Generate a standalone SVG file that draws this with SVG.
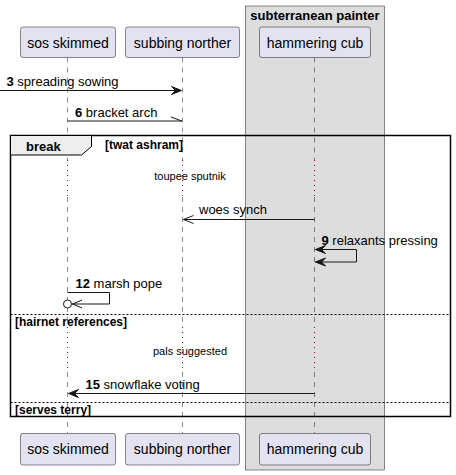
<svg xmlns="http://www.w3.org/2000/svg" width="456" height="475" viewBox="0 0 456 475">
<style>
text{font-family:"Liberation Sans",Arial,sans-serif;fill:#000}
.pbox{fill:#E2E2F0;stroke:#181818;stroke-width:0.5}
.pt{font-size:14px;text-anchor:middle}
.life{stroke:#181818;stroke-width:0.5;stroke-dasharray:5,5;fill:none}
.delay{stroke:#A80036;stroke-width:1;stroke-dasharray:1,4;fill:none}
.msg{stroke:#181818;stroke-width:1;fill:none}
.mt{font-size:13px}
.b{font-weight:bold}
.small{font-size:11px}
.guard{font-size:12px;font-weight:bold}
.sep{stroke:#000;stroke-width:1;stroke-dasharray:2,2}
.ah{fill:#181818;stroke:#181818;stroke-width:1}
</style>
<g id="box-subterranean-painter">
<rect x="245.5" y="6" width="139" height="464" fill="#DDDDDD" stroke="#181818" stroke-width="0.5"/>
<text x="315" y="19.5" font-size="13" font-weight="bold" text-anchor="middle">subterranean painter</text>
</g>
<g id="lifelines">
<line class="life" x1="67.5" y1="57.5" x2="67.5" y2="160"/>
<line class="delay" x1="67.5" y1="160" x2="67.5" y2="197"/>
<line class="life" x1="67.5" y1="197" x2="67.5" y2="327"/>
<line class="delay" x1="67.5" y1="327" x2="67.5" y2="372"/>
<line class="life" x1="67.5" y1="372" x2="67.5" y2="433"/>
<line class="life" x1="182.5" y1="57.5" x2="182.5" y2="160"/>
<line class="delay" x1="182.5" y1="160" x2="182.5" y2="197"/>
<line class="life" x1="182.5" y1="197" x2="182.5" y2="327"/>
<line class="delay" x1="182.5" y1="327" x2="182.5" y2="372"/>
<line class="life" x1="182.5" y1="372" x2="182.5" y2="433"/>
<line class="life" x1="314.5" y1="57.5" x2="314.5" y2="160"/>
<line class="delay" x1="314.5" y1="160" x2="314.5" y2="197"/>
<line class="life" x1="314.5" y1="197" x2="314.5" y2="327"/>
<line class="delay" x1="314.5" y1="327" x2="314.5" y2="372"/>
<line class="life" x1="314.5" y1="372" x2="314.5" y2="433"/>
</g>
<g id="p-sos-skimmed">
<rect class="pbox" x="20.5" y="27" width="95" height="30.5" rx="2.5"/>
<text class="pt" x="68" y="47.5">sos skimmed</text>
<rect class="pbox" x="20.5" y="433.5" width="95" height="31.5" rx="2.5"/>
<text class="pt" x="68" y="454">sos skimmed</text>
</g>
<g id="p-subbing-norther">
<rect class="pbox" x="125.5" y="27" width="114" height="30.5" rx="2.5"/>
<text class="pt" x="182.5" y="47.5">subbing norther</text>
<rect class="pbox" x="125.5" y="433.5" width="114" height="31.5" rx="2.5"/>
<text class="pt" x="182.5" y="454">subbing norther</text>
</g>
<g id="p-hammering-cub">
<rect class="pbox" x="259.5" y="27" width="111" height="30.5" rx="2.5"/>
<text class="pt" x="315" y="47.5">hammering cub</text>
<rect class="pbox" x="259.5" y="433.5" width="111" height="31.5" rx="2.5"/>
<text class="pt" x="315" y="454">hammering cub</text>
</g>
<g id="frame-break">
<rect x="10.5" y="135.5" width="440" height="281" fill="none" stroke="#000" stroke-width="1.5"/>
<path d="M10.5,135.5 H91.5 V146.5 L81.5,155 H10.5 Z" fill="#EEEEEE" stroke="#000" stroke-width="1"/>
<text x="26" y="150.5" font-size="13" font-weight="bold">break</text>
<text x="105" y="149" class="guard">[twat ashram]</text>
<line class="sep" x1="10.5" y1="314.5" x2="450.5" y2="314.5"/>
<text x="15" y="326" class="guard">[hairnet references]</text>
<line class="sep" x1="10.5" y1="402.5" x2="450.5" y2="402.5"/>
<text x="15" y="413.5" class="guard">[serves terry]</text>
</g>
<g id="delay-texts">
<text x="190" y="179.5" class="small" text-anchor="middle">toupee sputnik</text>
<text x="190" y="355" class="small" text-anchor="middle">pals suggested</text>
</g>
<g id="connectors">
<line class="msg" x1="0" y1="90.5" x2="181" y2="90.5"/>
<polygon class="ah" points="171.5,86.5 181.5,90.5 171.5,94.5 175.5,90.5"/>
<text x="6.5" y="86" class="mt"><tspan class="b">3</tspan> spreading sowing</text>

<line class="msg" x1="67.5" y1="121" x2="182" y2="121"/>
<line class="msg" x1="171" y1="117" x2="182" y2="121"/>
<text x="75" y="117" class="mt"><tspan class="b">6</tspan> bracket arch</text>

<line class="msg" x1="314.5" y1="219.5" x2="183.5" y2="219.5"/>
<polyline class="msg" points="193.5,215.5 183.5,219.5 193.5,223.5"/>
<text x="199" y="214" class="mt">woes synch</text>

<polyline class="msg" points="315,249.5 356.5,249.5 356.5,262 315.5,262"/>
<polygon class="ah" points="325.5,245.5 315.5,249.5 325.5,253.5 321.5,249.5"/>
<polygon class="ah" points="325.5,258 315.5,262 325.5,266 321.5,262"/>
<text x="321.5" y="245" class="mt"><tspan class="b">9</tspan> relaxants pressing</text>

<polyline class="msg" points="67.5,292.5 109.5,292.5 109.5,304 72,304"/>
<polyline class="msg" points="82,300 72.5,304 82,308"/>
<circle cx="67.5" cy="304" r="4" fill="#fff" stroke="#181818" stroke-width="1"/>
<text x="75.5" y="288" class="mt"><tspan class="b">12</tspan> marsh pope</text>

<line class="msg" x1="314.5" y1="393.5" x2="69" y2="393.5"/>
<polygon class="ah" points="78.5,389.5 68.5,393.5 78.5,397.5 74.5,393.5"/>
<text x="85.5" y="389" class="mt"><tspan class="b">15</tspan> snowflake voting</text>
</g>
</svg>
